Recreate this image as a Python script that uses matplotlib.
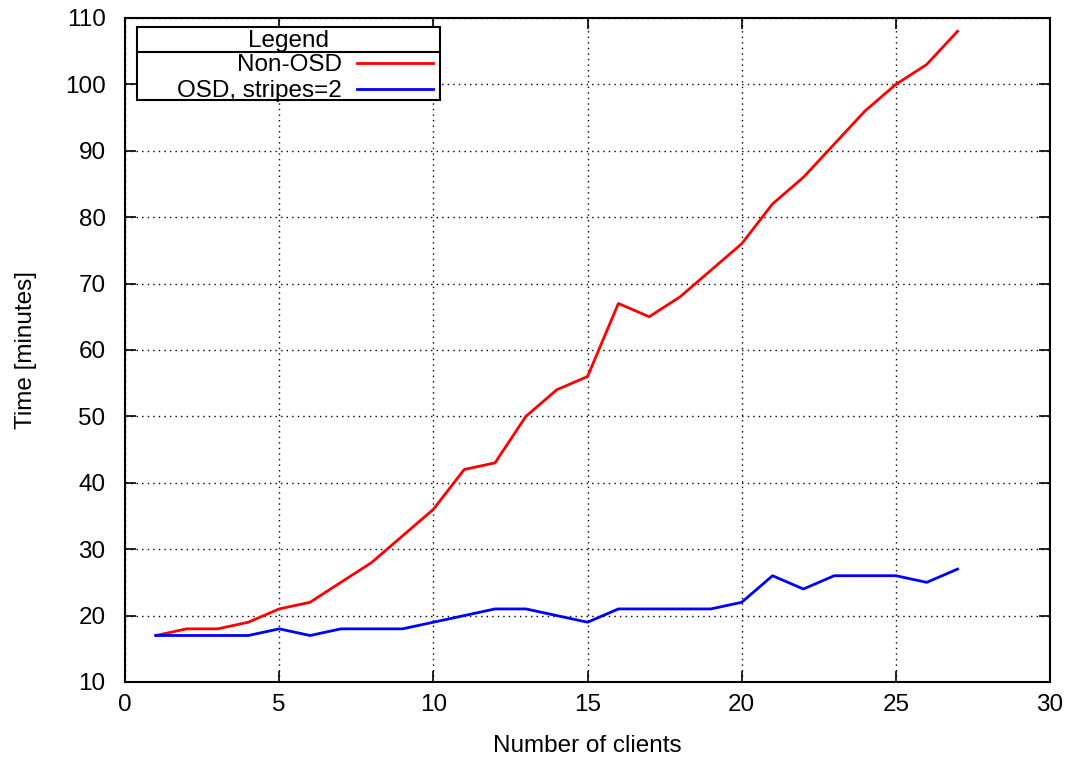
import matplotlib
matplotlib.use("Agg")
import matplotlib.pyplot as plt
from matplotlib.patches import Rectangle

plt.rcParams['font.family'] = ['Liberation Sans', 'DejaVu Sans']

# data
clients = list(range(1, 28))
non_osd = [17, 18, 18, 19, 21, 22, 25, 28, 32, 36, 42, 43, 50, 54, 56, 67, 65, 68,
           72, 76, 82, 86, 91, 96, 100, 103, 108]
osd_stripes2 = [17, 17, 17, 17, 18, 17, 18, 18, 18, 19, 20, 21, 21, 20, 19, 21, 21, 21,
                21, 22, 26, 24, 26, 26, 26, 25, 27]
series_labels = ["Non-OSD", "OSD, stripes=2"]
series_colors = ["#ff0000", "#0000ff"]

FS = 17.5

fig = plt.figure(figsize=(10.75, 7.58), dpi=100)
ax = fig.add_axes([0.1163, 0.1003, 0.8605, 0.876])

ax.plot(clients, non_osd, color=series_colors[0], lw=2)
ax.plot(clients, osd_stripes2, color=series_colors[1], lw=2)

ax.set_xlim(0, 30)
ax.set_ylim(10, 110)
ax.set_xticks(range(0, 31, 5))
ax.set_yticks(range(10, 111, 10))
ax.grid(True, color='black', linestyle=(0, (1, 3)), linewidth=1)
ax.tick_params(direction='in', top=True, right=True, length=8, width=1.2,
               labelsize=FS)
ax.tick_params(axis='x', pad=9)
ax.tick_params(axis='y', pad=14)
for s in ax.spines.values():
    s.set_linewidth(1.5)

ax.set_xlabel("Number of clients", fontsize=FS, labelpad=13)
ax.set_ylabel("Time [minutes]", fontsize=FS, labelpad=20)

# gnuplot-style legend box
x0, x1, y0, y1, ysep = 0.013, 0.3405, 0.8765, 0.9864, 0.9488
ax.add_patch(Rectangle((x0, y0), x1 - x0, y1 - y0, transform=ax.transAxes,
                       facecolor='white', edgecolor='black', lw=1.5, zorder=5))
ax.plot([x0, x1], [ysep, ysep], transform=ax.transAxes, color='black', lw=1.5, zorder=6)
ax.text((x0 + x1) / 2, 0.965, "Legend", transform=ax.transAxes, ha='center',
        va='center', fontsize=FS, zorder=7)
for lab, col, yy in zip(series_labels, series_colors, [0.9322, 0.8935]):
    ax.text(0.2346, yy - 0.003, lab, transform=ax.transAxes, ha='right', va='center',
            fontsize=FS, zorder=7)
    ax.plot([0.2508, 0.3324], [yy, yy], transform=ax.transAxes, color=col, lw=2, zorder=7)

fig.savefig("out.png", dpi=100)
